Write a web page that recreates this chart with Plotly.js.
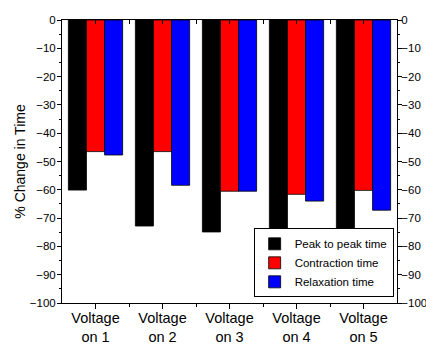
<!DOCTYPE html>
<html><head><meta charset="utf-8">
<script src="https://cdn.plot.ly/plotly-3.0.1.min.js"></script>
<style>body{margin:0;background:#fff}#c{width:426px;height:345px}</style>
</head><body><div id="c"></div>
<script>
const categories = ["Voltage<br>on 1","Voltage<br>on 2","Voltage<br>on 3","Voltage<br>on 4","Voltage<br>on 5"];
const peakToPeak = [-60.1, -72.8, -74.9, -76.4, -77.4];
const contraction = [-46.5, -46.5, -60.5, -61.6, -60.2];
const relaxation = [-47.7, -58.4, -60.5, -64.0, -67.2];
const seriesNames = ["Peak to peak time","Contraction time","Relaxation time"];
const yTickVals = [0,-10,-20,-30,-40,-50,-60,-70,-80,-90,-100];

const colors = ["#000000","#ff0000","#0000ff"];
const font = {family:"Liberation Sans, Arial, sans-serif", color:"#000"};
const traces = [peakToPeak, contraction, relaxation].map((v,i)=>({
  type:"bar", x:categories, y:v, name:seriesNames[i],
  marker:{color:colors[i], line:{color:"#000", width:0.8}}
}));
const boundaryTicks = [0.5,1.5,2.5,3.5];
const layout = {
  width:426, height:345,
  margin:{l:62, r:29, t:20, b:42},
  paper_bgcolor:"#fff", plot_bgcolor:"#fff",
  font:Object.assign({size:12}, font),
  barmode:"group", bargap:0.19, bargroupgap:0,
  showlegend:true,
  legend:{x:0.99, y:0.02, xanchor:"right", yanchor:"bottom",
    bordercolor:"#000", borderwidth:1, bgcolor:"#fff",
    font:Object.assign({size:11.5}, font), tracegroupgap:0, itemwidth:30},
  xaxis:{type:"category", showline:true, linecolor:"#000", linewidth:1,
    ticks:"outside", ticklen:5, tickcolor:"#000", tickfont:Object.assign({size:14.5}, font),
    ticklabelstandoff:-3,
    showgrid:false, zeroline:false, range:[-0.5,4.5]},
  xaxis2:{overlaying:"x", side:"bottom", type:"linear", range:[-0.5,4.5],
    tickvals:boundaryTicks, ticks:"outside", ticklen:3, tickcolor:"#000",
    showticklabels:false, showgrid:false, zeroline:false, showline:false},
  xaxis3:{overlaying:"x", side:"top", type:"linear", range:[-0.5,4.5],
    tickvals:[0,0.5,1,1.5,2,2.5,3,3.5,4], ticks:"inside", ticklen:4, tickcolor:"#000",
    showticklabels:false, showgrid:false, zeroline:false, showline:true, linecolor:"#000", linewidth:1},
  yaxis:{range:[-100,0], tickvals:yTickVals, showline:true, linecolor:"#000", linewidth:1,
    ticks:"outside", ticklen:4, tickcolor:"#000", showgrid:false, zeroline:false,
    minor:{dtick:5, ticks:"outside", ticklen:2, tickcolor:"#000", showgrid:false},
    tickfont:Object.assign({size:11.5}, font), ticklabelstandoff:-1,
    title:{text:"% Change in Time", font:Object.assign({size:14}, font), standoff:0}},
  yaxis2:{overlaying:"y", side:"right", range:[-100,0], tickvals:yTickVals,
    showline:true, linecolor:"#000", linewidth:1, ticks:"outside", ticklen:4, tickcolor:"#000",
    minor:{dtick:5, ticks:"outside", ticklen:2, tickcolor:"#000", showgrid:false},
    ticklabelstandoff:-3,
    showgrid:false, zeroline:false, tickfont:Object.assign({size:11.5}, font)}
};
traces.push({type:"scatter", x:[0], y:[0], xaxis:"x2", yaxis:"y2", mode:"markers",
  marker:{opacity:0}, showlegend:false, hoverinfo:"skip"});
traces.push({type:"scatter", x:[0], y:[0], xaxis:"x3", yaxis:"y", mode:"markers",
  marker:{opacity:0}, showlegend:false, hoverinfo:"skip"});
Plotly.newPlot("c", traces, layout, {staticPlot:true, displayModeBar:false});
</script></body></html>
